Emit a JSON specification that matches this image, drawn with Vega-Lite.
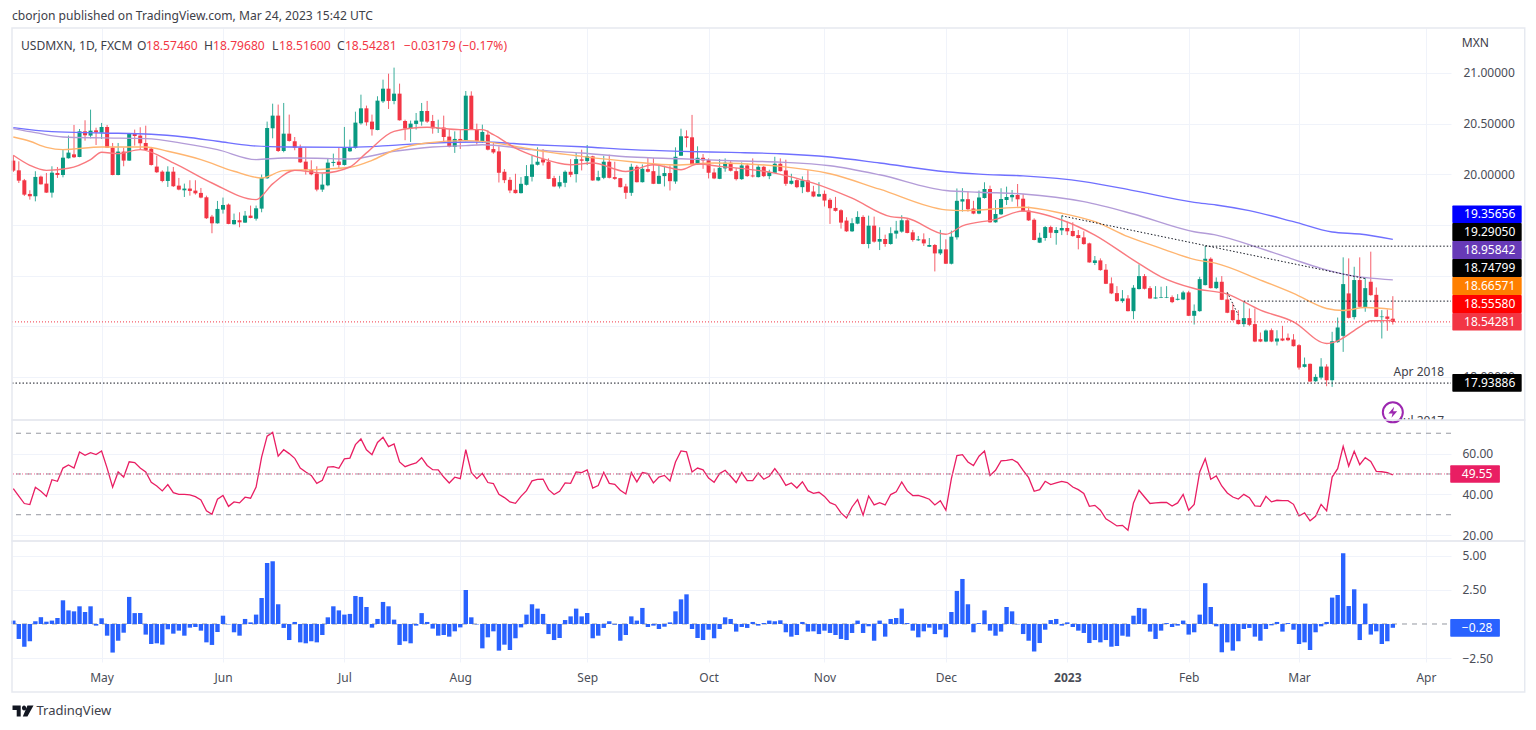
{"$schema":"https://vega.github.io/schema/vega-lite/v6.json","padding":{"left":10,"top":9,"right":0,"bottom":0},"background":"white","bounds":"flush","spacing":0,"config":{"view":{"stroke":null},"font":"Noto Sans","axis":{"labelFont":"Noto Sans","gridColor":"#f0f3fa","gridWidth":1}},
"datasets":{
"bars":[
{"i":0,"o":20.135,"h":20.188,"l":20.023,"c":20.036,"r":42.8,"m":0.25},
{"i":1,"o":20.039,"h":20.128,"l":19.914,"c":19.937,"r":39.1,"m":-1.1},
{"i":2,"o":19.941,"h":19.954,"l":19.786,"c":19.799,"r":35.5,"m":-1.67},
{"i":3,"o":19.806,"h":19.842,"l":19.75,"c":19.783,"r":35,"m":-1.27},
{"i":4,"o":19.783,"h":20.03,"l":19.733,"c":19.974,"r":43.5,"m":0.2},
{"i":5,"o":19.977,"h":19.987,"l":19.898,"c":19.901,"r":41.5,"m":0.5},
{"i":6,"o":19.908,"h":20.013,"l":19.816,"c":19.819,"r":39,"m":0.17},
{"i":7,"o":19.819,"h":20.079,"l":19.77,"c":20.016,"r":47.2,"m":0.25},
{"i":8,"o":20.013,"h":20.072,"l":19.964,"c":19.993,"r":46.4,"m":0.44},
{"i":9,"o":19.993,"h":20.243,"l":19.97,"c":20.164,"r":52.9,"m":1.74},
{"i":10,"o":20.158,"h":20.382,"l":20.155,"c":20.214,"r":54.4,"m":1},
{"i":11,"o":20.197,"h":20.487,"l":20.161,"c":20.168,"r":52.9,"m":0.93},
{"i":12,"o":20.171,"h":20.447,"l":20.168,"c":20.424,"r":60.8,"m":1.3},
{"i":13,"o":20.424,"h":20.533,"l":20.332,"c":20.385,"r":59.2,"m":0.88},
{"i":14,"o":20.382,"h":20.638,"l":20.355,"c":20.431,"r":60.5,"m":1.3},
{"i":15,"o":20.434,"h":20.46,"l":20.289,"c":20.414,"r":59.5,"m":-0.12},
{"i":16,"o":20.411,"h":20.507,"l":20.349,"c":20.467,"r":61.3,"m":0.42},
{"i":17,"o":20.467,"h":20.487,"l":20.26,"c":20.263,"r":52.9,"m":-0.86},
{"i":18,"o":20.263,"h":20.309,"l":19.99,"c":19.993,"r":43.5,"m":-2.1},
{"i":19,"o":19.993,"h":20.309,"l":19.99,"c":20.224,"r":51,"m":-1.23},
{"i":20,"o":20.224,"h":20.263,"l":20.079,"c":20.135,"r":48.5,"m":-0.64},
{"i":21,"o":20.135,"h":20.408,"l":20.132,"c":20.401,"r":56,"m":1.99},
{"i":22,"o":20.401,"h":20.441,"l":20.283,"c":20.378,"r":55.6,"m":0.8},
{"i":23,"o":20.382,"h":20.464,"l":20.243,"c":20.306,"r":52.9,"m":0.8},
{"i":24,"o":20.309,"h":20.48,"l":20.237,"c":20.24,"r":51,"m":-0.78},
{"i":25,"o":20.253,"h":20.27,"l":20.086,"c":20.092,"r":45.9,"m":-1.47},
{"i":26,"o":20.076,"h":20.184,"l":20.013,"c":20.02,"r":44.1,"m":-1.42},
{"i":27,"o":20.026,"h":20.039,"l":19.921,"c":19.934,"r":41.7,"m":-1.52},
{"i":28,"o":19.934,"h":20.079,"l":19.875,"c":20.026,"r":44.8,"m":-0.39},
{"i":29,"o":20.026,"h":20.072,"l":19.875,"c":19.882,"r":40.8,"m":-0.71},
{"i":30,"o":19.888,"h":19.964,"l":19.842,"c":19.849,"r":40,"m":-0.49},
{"i":31,"o":19.842,"h":19.908,"l":19.776,"c":19.859,"r":40,"m":-0.86},
{"i":32,"o":19.859,"h":19.941,"l":19.789,"c":19.836,"r":39.7,"m":-0.27},
{"i":33,"o":19.839,"h":19.941,"l":19.799,"c":19.812,"r":38.9,"m":-0.22},
{"i":34,"o":19.816,"h":19.865,"l":19.763,"c":19.77,"r":37.3,"m":-0.49},
{"i":35,"o":19.773,"h":19.789,"l":19.559,"c":19.566,"r":31.9,"m":-1.35},
{"i":36,"o":19.582,"h":19.599,"l":19.418,"c":19.516,"r":30.2,"m":-1.54},
{"i":37,"o":19.516,"h":19.737,"l":19.513,"c":19.658,"r":37.6,"m":-0.59},
{"i":38,"o":19.651,"h":19.77,"l":19.612,"c":19.697,"r":39.5,"m":0.61},
{"i":39,"o":19.701,"h":19.711,"l":19.507,"c":19.51,"r":34.1,"m":-0.03},
{"i":40,"o":19.507,"h":19.612,"l":19.503,"c":19.549,"r":36.3,"m":-0.61},
{"i":41,"o":19.546,"h":19.625,"l":19.477,"c":19.526,"r":35.8,"m":-0.86},
{"i":42,"o":19.523,"h":19.638,"l":19.52,"c":19.592,"r":38.6,"m":0.37},
{"i":43,"o":19.592,"h":19.691,"l":19.566,"c":19.569,"r":38.1,"m":0.12},
{"i":44,"o":19.562,"h":19.691,"l":19.543,"c":19.664,"r":43.6,"m":0.69},
{"i":45,"o":19.661,"h":19.997,"l":19.625,"c":19.964,"r":58.3,"m":1.91},
{"i":46,"o":19.961,"h":20.52,"l":19.954,"c":20.457,"r":68.6,"m":4.49},
{"i":47,"o":20.454,"h":20.697,"l":20.355,"c":20.579,"r":70.4,"m":4.61},
{"i":48,"o":20.579,"h":20.688,"l":20.22,"c":20.23,"r":58.8,"m":1.45},
{"i":49,"o":20.23,"h":20.704,"l":20.217,"c":20.401,"r":61.9,"m":-0.29},
{"i":50,"o":20.401,"h":20.589,"l":20.322,"c":20.329,"r":60,"m":-1.18},
{"i":51,"o":20.326,"h":20.368,"l":20.237,"c":20.263,"r":57.7,"m":0.15},
{"i":52,"o":20.263,"h":20.293,"l":20.112,"c":20.118,"r":52.9,"m":-1.35},
{"i":53,"o":20.125,"h":20.263,"l":19.997,"c":20.046,"r":51,"m":-1.42},
{"i":54,"o":20.046,"h":20.138,"l":19.99,"c":20,"r":49.3,"m":-1.27},
{"i":55,"o":20.007,"h":20.079,"l":19.832,"c":19.849,"r":45.4,"m":-1.35},
{"i":56,"o":19.849,"h":20.007,"l":19.826,"c":19.898,"r":46.9,"m":-0.81},
{"i":57,"o":19.891,"h":20.161,"l":19.882,"c":20.115,"r":53.4,"m":0.49},
{"i":58,"o":20.112,"h":20.204,"l":20.079,"c":20.122,"r":53.6,"m":1.3},
{"i":59,"o":20.125,"h":20.263,"l":20.063,"c":20.092,"r":52.8,"m":1},
{"i":60,"o":20.092,"h":20.467,"l":20.086,"c":20.263,"r":57.4,"m":0.69},
{"i":61,"o":20.227,"h":20.342,"l":20.22,"c":20.263,"r":57.8,"m":0.74},
{"i":62,"o":20.26,"h":20.618,"l":20.253,"c":20.51,"r":64.4,"m":2.06},
{"i":63,"o":20.503,"h":20.786,"l":20.49,"c":20.651,"r":67.2,"m":1.99},
{"i":64,"o":20.651,"h":20.678,"l":20.48,"c":20.513,"r":61.9,"m":1.25},
{"i":65,"o":20.52,"h":20.589,"l":20.382,"c":20.444,"r":59.5,"m":-0.27},
{"i":66,"o":20.437,"h":20.77,"l":20.434,"c":20.727,"r":65.5,"m":0.37},
{"i":67,"o":20.72,"h":20.934,"l":20.704,"c":20.845,"r":68,"m":1.62},
{"i":68,"o":20.845,"h":20.993,"l":20.645,"c":20.724,"r":63.4,"m":1.3},
{"i":69,"o":20.724,"h":21.053,"l":20.691,"c":20.796,"r":64.7,"m":0.32},
{"i":70,"o":20.796,"h":20.895,"l":20.53,"c":20.533,"r":55.9,"m":-1.54},
{"i":71,"o":20.526,"h":20.539,"l":20.336,"c":20.451,"r":53.6,"m":-1.27},
{"i":72,"o":20.454,"h":20.53,"l":20.319,"c":20.5,"r":54.6,"m":-1.42},
{"i":73,"o":20.497,"h":20.605,"l":20.441,"c":20.53,"r":55.4,"m":-0.12},
{"i":74,"o":20.52,"h":20.704,"l":20.48,"c":20.625,"r":58,"m":0.8},
{"i":75,"o":20.625,"h":20.724,"l":20.507,"c":20.52,"r":54.2,"m":0.15},
{"i":76,"o":20.526,"h":20.586,"l":20.401,"c":20.454,"r":52.1,"m":-0.34},
{"i":77,"o":20.451,"h":20.539,"l":20.408,"c":20.457,"r":52,"m":-0.86},
{"i":78,"o":20.461,"h":20.579,"l":20.309,"c":20.368,"r":48.5,"m":-0.81},
{"i":79,"o":20.372,"h":20.447,"l":20.266,"c":20.27,"r":45.6,"m":-0.93},
{"i":80,"o":20.27,"h":20.424,"l":20.211,"c":20.349,"r":48.4,"m":-0.54},
{"i":81,"o":20.349,"h":20.441,"l":20.25,"c":20.329,"r":47.7,"m":-0.25},
{"i":82,"o":20.329,"h":20.822,"l":20.326,"c":20.776,"r":61.9,"m":2.5},
{"i":83,"o":20.776,"h":20.819,"l":20.441,"c":20.447,"r":50.8,"m":0.49},
{"i":84,"o":20.447,"h":20.5,"l":20.293,"c":20.329,"r":47.7,"m":-0.03},
{"i":85,"o":20.326,"h":20.49,"l":20.309,"c":20.418,"r":50.3,"m":-1.79},
{"i":86,"o":20.391,"h":20.434,"l":20.236,"c":20.243,"r":45.8,"m":-0.98},
{"i":87,"o":20.249,"h":20.309,"l":20.203,"c":20.216,"r":45.3,"m":-0.54},
{"i":88,"o":20.226,"h":20.276,"l":19.919,"c":20.015,"r":40,"m":-1.96},
{"i":89,"o":20.025,"h":20.051,"l":19.913,"c":19.942,"r":38.4,"m":-1.52},
{"i":90,"o":19.945,"h":19.972,"l":19.814,"c":19.84,"r":36.3,"m":-1.91},
{"i":91,"o":19.847,"h":20.005,"l":19.81,"c":19.814,"r":35.6,"m":-1.05},
{"i":92,"o":19.814,"h":19.972,"l":19.81,"c":19.906,"r":39,"m":-0.25},
{"i":93,"o":19.896,"h":20.091,"l":19.889,"c":19.982,"r":41.8,"m":0.69},
{"i":94,"o":19.975,"h":20.183,"l":19.929,"c":20.097,"r":46.6,"m":1.45},
{"i":95,"o":20.094,"h":20.266,"l":20.087,"c":20.124,"r":47.4,"m":1.13},
{"i":96,"o":20.147,"h":20.249,"l":20.087,"c":20.117,"r":47.5,"m":0.74},
{"i":97,"o":20.124,"h":20.157,"l":19.952,"c":19.955,"r":42.3,"m":-0.74},
{"i":98,"o":19.962,"h":19.985,"l":19.873,"c":19.88,"r":39.9,"m":-1.18},
{"i":99,"o":19.88,"h":19.985,"l":19.86,"c":19.922,"r":41.5,"m":-1.03},
{"i":100,"o":19.916,"h":20.038,"l":19.873,"c":20.025,"r":45.6,"m":0.29},
{"i":101,"o":20.025,"h":20.15,"l":19.972,"c":19.995,"r":45.4,"m":0.56},
{"i":102,"o":20.002,"h":20.21,"l":19.919,"c":20.15,"r":51,"m":1.13},
{"i":103,"o":20.147,"h":20.243,"l":20.038,"c":20.134,"r":50.7,"m":0.56},
{"i":104,"o":20.13,"h":20.289,"l":20.091,"c":20.177,"r":52,"m":0.81},
{"i":105,"o":20.177,"h":20.183,"l":19.936,"c":19.939,"r":43.1,"m":-1.05},
{"i":106,"o":19.939,"h":20.035,"l":19.932,"c":19.972,"r":44.3,"m":-0.86},
{"i":107,"o":19.965,"h":20.183,"l":19.952,"c":20.124,"r":50.8,"m":-0.29},
{"i":108,"o":20.124,"h":20.193,"l":19.959,"c":19.965,"r":45.4,"m":0.2},
{"i":109,"o":19.972,"h":20.124,"l":19.945,"c":19.955,"r":44.9,"m":-0.05},
{"i":110,"o":19.962,"h":19.965,"l":19.87,"c":19.873,"r":42,"m":-1.23},
{"i":111,"o":19.88,"h":19.906,"l":19.757,"c":19.817,"r":40.2,"m":-0.81},
{"i":112,"o":19.817,"h":20.104,"l":19.787,"c":20.074,"r":50.7,"m":0.56},
{"i":113,"o":20.074,"h":20.091,"l":19.919,"c":19.922,"r":46.1,"m":0.25},
{"i":114,"o":19.922,"h":20.097,"l":19.919,"c":20.054,"r":50.7,"m":1.18},
{"i":115,"o":20.051,"h":20.167,"l":20.018,"c":20.025,"r":50.2,"m":-0.22},
{"i":116,"o":20.031,"h":20.16,"l":19.903,"c":19.906,"r":45.6,"m":-0.12},
{"i":117,"o":19.906,"h":20.084,"l":19.903,"c":19.985,"r":48.5,"m":-0.37},
{"i":118,"o":19.982,"h":20.084,"l":19.88,"c":20.012,"r":49.3,"m":-0.2},
{"i":119,"o":20.012,"h":20.087,"l":19.84,"c":19.932,"r":46.6,"m":0.12},
{"i":120,"o":19.929,"h":20.266,"l":19.906,"c":20.173,"r":55.9,"m":0.93},
{"i":121,"o":20.183,"h":20.45,"l":20.18,"c":20.375,"r":61.3,"m":1.81},
{"i":122,"o":20.375,"h":20.434,"l":20.266,"c":20.358,"r":60.9,"m":2.18},
{"i":123,"o":20.365,"h":20.586,"l":20.094,"c":20.101,"r":51,"m":-0.37},
{"i":124,"o":20.097,"h":20.276,"l":20.094,"c":20.163,"r":52.9,"m":-1.03},
{"i":125,"o":20.163,"h":20.2,"l":20.054,"c":20.137,"r":52,"m":-1.18},
{"i":126,"o":20.14,"h":20.157,"l":19.959,"c":20.015,"r":48,"m":-0.42},
{"i":127,"o":20.018,"h":20.058,"l":19.952,"c":19.959,"r":45.9,"m":-1.05},
{"i":128,"o":19.955,"h":20.15,"l":19.952,"c":20.064,"r":50.2,"m":-0.37},
{"i":129,"o":20.058,"h":20.157,"l":20.025,"c":20.114,"r":51.8,"m":0.49},
{"i":130,"o":20.114,"h":20.134,"l":20.028,"c":20.035,"r":48.9,"m":0.37},
{"i":131,"o":20.031,"h":20.061,"l":19.939,"c":19.952,"r":45.8,"m":-0.56},
{"i":132,"o":19.952,"h":20.117,"l":19.945,"c":20.087,"r":50.7,"m":-0.22},
{"i":133,"o":20.087,"h":20.104,"l":19.975,"c":19.982,"r":46.7,"m":-0.29},
{"i":134,"o":19.988,"h":20.157,"l":19.969,"c":19.979,"r":46.7,"m":0.15},
{"i":135,"o":19.972,"h":20.091,"l":19.969,"c":20.074,"r":50.5,"m":-0.12},
{"i":136,"o":20.074,"h":20.084,"l":19.972,"c":19.982,"r":47.4,"m":0.07},
{"i":137,"o":19.982,"h":20.045,"l":19.952,"c":20.021,"r":48.9,"m":0.25},
{"i":138,"o":20.015,"h":20.173,"l":20.012,"c":20.104,"r":52.6,"m":0.2},
{"i":139,"o":20.104,"h":20.157,"l":20.028,"c":20.031,"r":48.9,"m":0.27},
{"i":140,"o":20.038,"h":20.144,"l":19.886,"c":19.906,"r":44.4,"m":-0.61},
{"i":141,"o":19.906,"h":20.005,"l":19.899,"c":19.936,"r":45.6,"m":-0.93},
{"i":142,"o":19.942,"h":19.952,"l":19.863,"c":19.873,"r":43.1,"m":-0.81},
{"i":143,"o":19.873,"h":19.979,"l":19.814,"c":19.939,"r":46.2,"m":0.15},
{"i":144,"o":19.939,"h":20.041,"l":19.82,"c":19.827,"r":41.8,"m":-0.56},
{"i":145,"o":19.83,"h":19.886,"l":19.774,"c":19.781,"r":40.5,"m":-0.54},
{"i":146,"o":19.781,"h":19.922,"l":19.777,"c":19.804,"r":41,"m":-0.74},
{"i":147,"o":19.807,"h":19.84,"l":19.682,"c":19.741,"r":39,"m":-0.49},
{"i":148,"o":19.748,"h":19.764,"l":19.51,"c":19.665,"r":35.9,"m":-0.66},
{"i":149,"o":19.668,"h":19.777,"l":19.632,"c":19.639,"r":34.8,"m":-0.81},
{"i":150,"o":19.645,"h":19.655,"l":19.464,"c":19.523,"r":30.9,"m":-1.1},
{"i":151,"o":19.543,"h":19.576,"l":19.431,"c":19.437,"r":28.4,"m":-1.18},
{"i":152,"o":19.437,"h":19.566,"l":19.431,"c":19.517,"r":33.8,"m":-0.66},
{"i":153,"o":19.513,"h":19.635,"l":19.507,"c":19.579,"r":37.4,"m":0.25},
{"i":154,"o":19.579,"h":19.596,"l":19.309,"c":19.312,"r":29.8,"m":-0.66},
{"i":155,"o":19.312,"h":19.592,"l":19.269,"c":19.493,"r":39.2,"m":-0.17},
{"i":156,"o":19.493,"h":19.582,"l":19.325,"c":19.335,"r":34.8,"m":-1.23},
{"i":157,"o":19.335,"h":19.477,"l":19.252,"c":19.361,"r":35.9,"m":0.25},
{"i":158,"o":19.361,"h":19.404,"l":19.285,"c":19.312,"r":34.8,"m":-0.93},
{"i":159,"o":19.312,"h":19.477,"l":19.305,"c":19.418,"r":39.9,"m":0.37},
{"i":160,"o":19.414,"h":19.54,"l":19.365,"c":19.444,"r":41.3,"m":0.44},
{"i":161,"o":19.434,"h":19.596,"l":19.424,"c":19.546,"r":46.1,"m":1.13},
{"i":162,"o":19.546,"h":19.566,"l":19.417,"c":19.421,"r":41.7,"m":0.07},
{"i":163,"o":19.427,"h":19.451,"l":19.335,"c":19.351,"r":39.4,"m":-0.49},
{"i":164,"o":19.348,"h":19.391,"l":19.342,"c":19.358,"r":39.5,"m":-0.98},
{"i":165,"o":19.358,"h":19.417,"l":19.292,"c":19.318,"r":38.6,"m":-0.54},
{"i":166,"o":19.285,"h":19.371,"l":19.282,"c":19.302,"r":37.6,"m":-0.27},
{"i":167,"o":19.302,"h":19.312,"l":19.041,"c":19.219,"r":34.8,"m":-0.74},
{"i":168,"o":19.219,"h":19.451,"l":19.203,"c":19.259,"r":36.9,"m":-0.42},
{"i":169,"o":19.259,"h":19.358,"l":19.114,"c":19.117,"r":32.2,"m":-0.98},
{"i":170,"o":19.117,"h":19.444,"l":19.11,"c":19.384,"r":47.7,"m":0.88},
{"i":171,"o":19.378,"h":19.86,"l":19.355,"c":19.738,"r":59,"m":2.43},
{"i":172,"o":19.731,"h":19.863,"l":19.632,"c":19.754,"r":59.5,"m":3.31},
{"i":173,"o":19.754,"h":19.83,"l":19.632,"c":19.655,"r":55.9,"m":1.45},
{"i":174,"o":19.662,"h":19.738,"l":19.606,"c":19.612,"r":54.1,"m":-0.61},
{"i":175,"o":19.612,"h":19.84,"l":19.606,"c":19.771,"r":58.7,"m":0.07},
{"i":176,"o":19.766,"h":19.921,"l":19.76,"c":19.855,"r":61.3,"m":1},
{"i":177,"o":19.855,"h":19.888,"l":19.522,"c":19.526,"r":49.3,"m":-0.49},
{"i":178,"o":19.526,"h":19.746,"l":19.522,"c":19.608,"r":51.8,"m":-0.86},
{"i":179,"o":19.605,"h":19.862,"l":19.598,"c":19.756,"r":56.4,"m":-0.56},
{"i":180,"o":19.746,"h":19.878,"l":19.697,"c":19.776,"r":56.7,"m":1.25},
{"i":181,"o":19.773,"h":19.845,"l":19.73,"c":19.796,"r":57.2,"m":0.93},
{"i":182,"o":19.796,"h":19.904,"l":19.68,"c":19.753,"r":55.6,"m":-0.03},
{"i":183,"o":19.759,"h":19.806,"l":19.631,"c":19.634,"r":51.8,"m":-0.74},
{"i":184,"o":19.641,"h":19.68,"l":19.539,"c":19.545,"r":48.2,"m":-1.23},
{"i":185,"o":19.552,"h":19.565,"l":19.348,"c":19.351,"r":41.5,"m":-2.03},
{"i":186,"o":19.325,"h":19.423,"l":19.321,"c":19.374,"r":42.3,"m":-1.4},
{"i":187,"o":19.371,"h":19.489,"l":19.344,"c":19.479,"r":46.4,"m":-0.42},
{"i":188,"o":19.479,"h":19.493,"l":19.371,"c":19.423,"r":44.8,"m":0.29},
{"i":189,"o":19.42,"h":19.479,"l":19.305,"c":19.45,"r":45.6,"m":0.37},
{"i":190,"o":19.446,"h":19.591,"l":19.4,"c":19.47,"r":46.4,"m":-0.12},
{"i":191,"o":19.47,"h":19.532,"l":19.4,"c":19.437,"r":45.8,"m":0.12},
{"i":192,"o":19.44,"h":19.526,"l":19.384,"c":19.39,"r":43.6,"m":-0.22},
{"i":193,"o":19.4,"h":19.45,"l":19.259,"c":19.371,"r":42.3,"m":-0.49},
{"i":194,"o":19.377,"h":19.437,"l":19.305,"c":19.311,"r":40.4,"m":-0.66},
{"i":195,"o":19.318,"h":19.325,"l":19.127,"c":19.13,"r":34.1,"m":-1.4},
{"i":196,"o":19.124,"h":19.193,"l":19.104,"c":19.15,"r":34.6,"m":-1.18},
{"i":197,"o":19.15,"h":19.17,"l":19.048,"c":19.054,"r":32.2,"m":-1.35},
{"i":198,"o":19.058,"h":19.114,"l":18.916,"c":18.919,"r":28,"m":-1.18},
{"i":199,"o":18.923,"h":18.982,"l":18.817,"c":18.824,"r":26.3,"m":-1.67},
{"i":200,"o":18.827,"h":18.896,"l":18.741,"c":18.748,"r":24.5,"m":-1.62},
{"i":201,"o":18.748,"h":18.857,"l":18.731,"c":18.774,"r":24.8,"m":-0.86},
{"i":202,"o":18.774,"h":18.807,"l":18.646,"c":18.649,"r":22.4,"m":-0.93},
{"i":203,"o":18.649,"h":18.906,"l":18.57,"c":18.88,"r":35.8,"m":0.61},
{"i":204,"o":18.867,"h":19.11,"l":18.863,"c":18.995,"r":42,"m":1.18},
{"i":205,"o":18.995,"h":19.015,"l":18.863,"c":18.87,"r":38.7,"m":1.13},
{"i":206,"o":18.876,"h":18.896,"l":18.771,"c":18.774,"r":35.5,"m":-0.56},
{"i":207,"o":18.774,"h":18.896,"l":18.771,"c":18.784,"r":35.8,"m":-1.1},
{"i":208,"o":18.781,"h":18.89,"l":18.778,"c":18.787,"r":36,"m":-0.49},
{"i":209,"o":18.781,"h":18.896,"l":18.778,"c":18.787,"r":36,"m":0.07},
{"i":210,"o":18.787,"h":18.804,"l":18.728,"c":18.738,"r":34.3,"m":-0.22},
{"i":211,"o":18.761,"h":18.817,"l":18.755,"c":18.771,"r":35.8,"m":-0.12},
{"i":212,"o":18.764,"h":18.85,"l":18.758,"c":18.834,"r":40,"m":0.25},
{"i":213,"o":18.834,"h":18.85,"l":18.6,"c":18.603,"r":32.2,"m":-0.78},
{"i":214,"o":18.603,"h":18.715,"l":18.517,"c":18.652,"r":35.1,"m":-0.61},
{"i":215,"o":18.649,"h":18.988,"l":18.643,"c":18.965,"r":51,"m":0.69},
{"i":216,"o":18.906,"h":19.292,"l":18.903,"c":19.166,"r":57.5,"m":3},
{"i":217,"o":19.166,"h":19.18,"l":18.873,"c":18.876,"r":47.4,"m":1.25},
{"i":218,"o":18.876,"h":18.982,"l":18.867,"c":18.939,"r":49,"m":-0.17},
{"i":219,"o":18.939,"h":18.995,"l":18.758,"c":18.761,"r":44.1,"m":-2.08},
{"i":220,"o":18.764,"h":18.834,"l":18.629,"c":18.633,"r":40.7,"m":-1.35},
{"i":221,"o":18.659,"h":18.725,"l":18.554,"c":18.56,"r":38.7,"m":-1.96},
{"i":222,"o":18.563,"h":18.659,"l":18.517,"c":18.521,"r":37.7,"m":-1.27},
{"i":223,"o":18.521,"h":18.741,"l":18.494,"c":18.58,"r":40,"m":-0.37},
{"i":224,"o":18.58,"h":18.675,"l":18.501,"c":18.514,"r":38.4,"m":-0.29},
{"i":225,"o":18.521,"h":18.675,"l":18.343,"c":18.349,"r":34.3,"m":-0.93},
{"i":226,"o":18.372,"h":18.438,"l":18.343,"c":18.349,"r":34.1,"m":-1.23},
{"i":227,"o":18.349,"h":18.468,"l":18.343,"c":18.458,"r":39,"m":-0.37},
{"i":228,"o":18.461,"h":18.478,"l":18.343,"c":18.349,"r":36.3,"m":-0.1},
{"i":229,"o":18.349,"h":18.461,"l":18.31,"c":18.379,"r":37.1,"m":0.15},
{"i":230,"o":18.379,"h":18.504,"l":18.353,"c":18.359,"r":36.9,"m":-0.56},
{"i":231,"o":18.386,"h":18.428,"l":18.353,"c":18.362,"r":36.9,"m":0.07},
{"i":232,"o":18.369,"h":18.422,"l":18.3,"c":18.303,"r":35.1,"m":-0.42},
{"i":233,"o":18.313,"h":18.323,"l":18.072,"c":18.092,"r":29.4,"m":-1.47},
{"i":234,"o":18.099,"h":18.191,"l":18.092,"c":18.125,"r":30.9,"m":-1.35},
{"i":235,"o":18.129,"h":18.132,"l":17.951,"c":17.954,"r":27,"m":-1.91},
{"i":236,"o":17.957,"h":18.026,"l":17.951,"c":18,"r":29.2,"m":-0.61},
{"i":237,"o":17.993,"h":18.185,"l":17.974,"c":18.102,"r":35.1,"m":-0.17},
{"i":238,"o":18.102,"h":18.125,"l":17.908,"c":17.967,"r":31.9,"m":0.15},
{"i":239,"o":17.967,"h":18.445,"l":17.901,"c":18.352,"r":48.5,"m":1.94},
{"i":240,"o":18.343,"h":18.586,"l":18.336,"c":18.488,"r":52.6,"m":2.13},
{"i":241,"o":18.405,"h":19.18,"l":18.247,"c":18.916,"r":63.6,"m":5.2},
{"i":242,"o":18.824,"h":19.17,"l":18.577,"c":18.583,"r":53.9,"m":1.32},
{"i":243,"o":18.59,"h":19.087,"l":18.567,"c":18.956,"r":61.1,"m":2.55},
{"i":244,"o":18.956,"h":19.18,"l":18.685,"c":18.692,"r":54.6,"m":-1.18},
{"i":245,"o":18.685,"h":18.982,"l":18.643,"c":18.876,"r":58,"m":1.5},
{"i":246,"o":18.939,"h":19.236,"l":18.801,"c":18.807,"r":56.2,"m":-0.78},
{"i":247,"o":18.81,"h":18.883,"l":18.59,"c":18.593,"r":51.3,"m":-0.54},
{"i":248,"o":18.59,"h":18.659,"l":18.379,"c":18.596,"r":51.1,"m":-1.47},
{"i":249,"o":18.596,"h":18.666,"l":18.455,"c":18.573,"r":50.7,"m":-1.27},
{"i":250,"o":18.5746,"h":18.7968,"l":18.516,"c":18.5428,"r":49.55,"m":-0.28}
],
"ma":[
{"s":"MA 200","i":0,"p":20.461},{"s":"MA 200","i":7,"p":20.421},{"s":"MA 200","i":16,"p":20.408},{"s":"MA 200","i":25,"p":20.395},{"s":"MA 200","i":31,"p":20.368},{"s":"MA 200","i":37,"p":20.326},{"s":"MA 200","i":43,"p":20.283},{"s":"MA 200","i":50,"p":20.27},{"s":"MA 200","i":61,"p":20.266},{"s":"MA 200","i":70,"p":20.29},{"s":"MA 200","i":80,"p":20.316},{"s":"MA 200","i":85,"p":20.318},{"s":"MA 200","i":94,"p":20.292},{"s":"MA 200","i":103,"p":20.272},{"s":"MA 200","i":112,"p":20.243},{"s":"MA 200","i":121,"p":20.226},{"s":"MA 200","i":130,"p":20.216},{"s":"MA 200","i":139,"p":20.203},{"s":"MA 200","i":148,"p":20.17},{"s":"MA 200","i":157,"p":20.111},{"s":"MA 200","i":169,"p":20.025},{"s":"MA 200","i":175,"p":20.002},{"s":"MA 200","i":183,"p":19.984},{"s":"MA 200","i":194,"p":19.928},{"s":"MA 200","i":203,"p":19.839},{"s":"MA 200","i":214,"p":19.723},{"s":"MA 200","i":218,"p":19.697},{"s":"MA 200","i":224,"p":19.641},{"s":"MA 200","i":232,"p":19.532},{"s":"MA 200","i":239,"p":19.43},{"s":"MA 200","i":244,"p":19.41},{"s":"MA 200","i":250,"p":19.357},
{"s":"MA 100","i":0,"p":20.451},{"s":"MA 100","i":4,"p":20.411},{"s":"MA 100","i":9,"p":20.368},{"s":"MA 100","i":16,"p":20.359},{"s":"MA 100","i":24,"p":20.352},{"s":"MA 100","i":31,"p":20.303},{"s":"MA 100","i":37,"p":20.243},{"s":"MA 100","i":44,"p":20.145},{"s":"MA 100","i":49,"p":20.161},{"s":"MA 100","i":55,"p":20.158},{"s":"MA 100","i":61,"p":20.151},{"s":"MA 100","i":69,"p":20.227},{"s":"MA 100","i":76,"p":20.27},{"s":"MA 100","i":82,"p":20.283},{"s":"MA 100","i":85,"p":20.292},{"s":"MA 100","i":94,"p":20.243},{"s":"MA 100","i":103,"p":20.21},{"s":"MA 100","i":112,"p":20.17},{"s":"MA 100","i":121,"p":20.153},{"s":"MA 100","i":130,"p":20.134},{"s":"MA 100","i":139,"p":20.12},{"s":"MA 100","i":148,"p":20.084},{"s":"MA 100","i":157,"p":19.995},{"s":"MA 100","i":169,"p":19.84},{"s":"MA 100","i":175,"p":19.823},{"s":"MA 100","i":183,"p":19.806},{"s":"MA 100","i":194,"p":19.73},{"s":"MA 100","i":203,"p":19.608},{"s":"MA 100","i":214,"p":19.433},{"s":"MA 100","i":218,"p":19.4},{"s":"MA 100","i":226,"p":19.269},{"s":"MA 100","i":232,"p":19.16},{"s":"MA 100","i":237,"p":19.071},{"s":"MA 100","i":241,"p":19.015},{"s":"MA 100","i":250,"p":18.958},
{"s":"MA 50","i":0,"p":20.368},{"s":"MA 50","i":3,"p":20.326},{"s":"MA 50","i":6,"p":20.266},{"s":"MA 50","i":9,"p":20.243},{"s":"MA 50","i":16,"p":20.27},{"s":"MA 50","i":24,"p":20.27},{"s":"MA 50","i":28,"p":20.227},{"s":"MA 50","i":34,"p":20.145},{"s":"MA 50","i":40,"p":20.03},{"s":"MA 50","i":45,"p":19.964},{"s":"MA 50","i":49,"p":20.036},{"s":"MA 50","i":55,"p":20.046},{"s":"MA 50","i":61,"p":20.069},{"s":"MA 50","i":65,"p":20.138},{"s":"MA 50","i":69,"p":20.237},{"s":"MA 50","i":75,"p":20.309},{"s":"MA 50","i":82,"p":20.332},{"s":"MA 50","i":85,"p":20.325},{"s":"MA 50","i":91,"p":20.276},{"s":"MA 50","i":97,"p":20.219},{"s":"MA 50","i":103,"p":20.177},{"s":"MA 50","i":112,"p":20.124},{"s":"MA 50","i":120,"p":20.091},{"s":"MA 50","i":127,"p":20.111},{"s":"MA 50","i":139,"p":20.078},{"s":"MA 50","i":148,"p":20.005},{"s":"MA 50","i":157,"p":19.853},{"s":"MA 50","i":169,"p":19.649},{"s":"MA 50","i":172,"p":19.641},{"s":"MA 50","i":183,"p":19.674},{"s":"MA 50","i":190,"p":19.615},{"s":"MA 50","i":196,"p":19.532},{"s":"MA 50","i":202,"p":19.384},{"s":"MA 50","i":208,"p":19.269},{"s":"MA 50","i":214,"p":19.16},{"s":"MA 50","i":218,"p":19.12},{"s":"MA 50","i":226,"p":18.956},{"s":"MA 50","i":232,"p":18.824},{"s":"MA 50","i":238,"p":18.675},{"s":"MA 50","i":241,"p":18.656},{"s":"MA 50","i":245,"p":18.685},{"s":"MA 50","i":250,"p":18.666},
{"s":"MA 20","i":0,"p":20.188},{"s":"MA 20","i":3,"p":20.089},{"s":"MA 20","i":6,"p":20.039},{"s":"MA 20","i":10,"p":20.059},{"s":"MA 20","i":14,"p":20.145},{"s":"MA 20","i":16,"p":20.217},{"s":"MA 20","i":19,"p":20.204},{"s":"MA 20","i":23,"p":20.243},{"s":"MA 20","i":29,"p":20.112},{"s":"MA 20","i":36,"p":19.914},{"s":"MA 20","i":44,"p":19.75},{"s":"MA 20","i":47,"p":19.905},{"s":"MA 20","i":51,"p":20.039},{"s":"MA 20","i":56,"p":20.013},{"s":"MA 20","i":61,"p":20.072},{"s":"MA 20","i":64,"p":20.211},{"s":"MA 20","i":69,"p":20.424},{"s":"MA 20","i":75,"p":20.464},{"s":"MA 20","i":81,"p":20.441},{"s":"MA 20","i":85,"p":20.441},{"s":"MA 20","i":87,"p":20.391},{"s":"MA 20","i":91,"p":20.259},{"s":"MA 20","i":95,"p":20.17},{"s":"MA 20","i":101,"p":20.094},{"s":"MA 20","i":105,"p":20.111},{"s":"MA 20","i":111,"p":20.028},{"s":"MA 20","i":116,"p":20.094},{"s":"MA 20","i":121,"p":20.045},{"s":"MA 20","i":124,"p":20.101},{"s":"MA 20","i":128,"p":20.078},{"s":"MA 20","i":138,"p":20.012},{"s":"MA 20","i":145,"p":19.913},{"s":"MA 20","i":152,"p":19.764},{"s":"MA 20","i":159,"p":19.582},{"s":"MA 20","i":162,"p":19.566},{"s":"MA 20","i":169,"p":19.408},{"s":"MA 20","i":172,"p":19.49},{"s":"MA 20","i":178,"p":19.555},{"s":"MA 20","i":183,"p":19.638},{"s":"MA 20","i":190,"p":19.549},{"s":"MA 20","i":196,"p":19.4},{"s":"MA 20","i":203,"p":19.153},{"s":"MA 20","i":208,"p":18.988},{"s":"MA 20","i":214,"p":18.873},{"s":"MA 20","i":220,"p":18.817},{"s":"MA 20","i":226,"p":18.659},{"s":"MA 20","i":232,"p":18.544},{"s":"MA 20","i":238,"p":18.33},{"s":"MA 20","i":240,"p":18.356},{"s":"MA 20","i":244,"p":18.494},{"s":"MA 20","i":246,"p":18.554},{"s":"MA 20","i":250,"p":18.556}
],
"tags":[
{"kind":"MA 200","txt":"19.35656","mid":19.606,"lo":19.519,"hi":19.693},
{"kind":"High","txt":"19.29050","mid":19.43,"lo":19.342,"hi":19.519},
{"kind":"MA 100","txt":"18.95842","mid":19.253,"lo":19.164,"hi":19.342},
{"kind":"Pivot","txt":"18.74799","mid":19.075,"lo":18.986,"hi":19.164},
{"kind":"MA 50","txt":"18.66571","mid":18.897,"lo":18.808,"hi":18.986},
{"kind":"MA 20","txt":"18.55580","mid":18.72,"lo":18.631,"hi":18.808},
{"kind":"Close","txt":"18.54281","mid":18.545,"lo":18.459,"hi":18.631},
{"kind":"Low","txt":"17.93886","mid":17.94,"lo":17.853,"hi":18.029}
]
},
"vconcat":[
{"width":1439,"height":392,"resolve":{"scale":{"color":"independent"}},"layer":[
{"data":{"name":"bars"},"mark":{"type":"rule","strokeWidth":1,"opacity":0.8},"encoding":{
"x":{"field":"i","type":"quantitative","scale":{"domain":[-0.236,260.54],"nice":false,"zero":false,"padding":0},"axis":{"values":[16,38,60,81,104,126,147,169,191,213,233,256],"grid":true,"labels":false,"ticks":false,"domain":false,"title":null}},
"y":{"field":"l","type":"quantitative","scale":{"domain":[17.5745,21.444],"nice":false,"zero":false,"padding":0},"axis":{"orient":"right","values":[18,18.5,19,19.5,20,20.5,21],"format":".5f","labelExpr":"datum.value===18.5||datum.value===19||datum.value===19.5?'':datum.label","grid":true,"ticks":false,"domain":false,"title":null,"labelAlign":"left","labelPadding":12,"labelFontSize":12,"labelColor":"#4a4d57"}},
"y2":{"field":"h"},
"color":{"condition":{"test":"datum.c>=datum.o","value":"#089981"},"value":"#F23645"}}},
{"data":{"name":"bars"},"mark":{"type":"bar","size":4,"orient":"vertical"},"encoding":{
"x":{"field":"i","type":"quantitative"},
"y":{"field":"o","type":"quantitative"},
"y2":{"field":"c"},
"color":{"condition":{"test":"datum.c>=datum.o","value":"#089981"},"value":"#F23645"}}},
{"data":{"name":"ma"},"mark":{"type":"line","strokeWidth":1.4,"interpolate":"monotone"},"encoding":{
"x":{"field":"i","type":"quantitative"},
"y":{"field":"p","type":"quantitative"},
"color":{"field":"s","type":"nominal","legend":null,"scale":{"domain":["MA 20","MA 50","MA 100","MA 200"],"range":["#F97A7F","#FFB570","#B39CD8","#7070FF"]}}}},
{"data":{"values":[{"name":"low","level":17.93886,"a":-0.236,"b":260.54},{"name":"high","level":19.2905,"a":216,"b":260.54},{"name":"pivot","level":18.74799,"a":223,"b":260.54}]},"mark":{"type":"rule","strokeDash":[1.5,2],"strokeWidth":1,"color":"#131722"},"encoding":{
"x":{"field":"a","type":"quantitative"},"x2":{"field":"b"},
"y":{"field":"level","type":"quantitative"}}},
{"data":{"values":[{"level":18.54281,"a":-0.236,"b":260.54}]},"mark":{"type":"rule","strokeDash":[1,2],"strokeWidth":1,"color":"#F23645"},"encoding":{
"x":{"field":"a","type":"quantitative"},"x2":{"field":"b"},
"y":{"field":"level","type":"quantitative"}}},
{"data":{"values":[{"t":"a","i":190,"p":19.59},{"t":"a","i":245,"p":18.97},{"t":"b","i":220,"p":18.834},{"t":"b","i":222,"p":18.61}]},"mark":{"type":"line","strokeDash":[1.5,2],"strokeWidth":1,"color":"#131722"},"encoding":{
"x":{"field":"i","type":"quantitative"},
"y":{"field":"p","type":"quantitative"},
"detail":{"field":"t"}}},
{"data":{"values":[{"a":-0.236,"b":273.9,"top":21.444,"bot":17.5745}]},"mark":{"type":"rect","fillOpacity":0,"stroke":"#e6e9f0","strokeWidth":1.5},"encoding":{
"x":{"field":"a","type":"quantitative"},"x2":{"field":"b"},
"y":{"field":"top","type":"quantitative"},"y2":{"field":"bot"}}},
{"data":{"name":"tags"},"mark":{"type":"rect","cornerRadius":1},"encoding":{
"x":{"datum":260.78,"type":"quantitative"},"x2":{"datum":273.35},
"y":{"field":"hi","type":"quantitative"},"y2":{"field":"lo"},
"color":{"field":"kind","type":"nominal","legend":null,"scale":{"domain":["MA 200","High","MA 100","Pivot","MA 50","MA 20","Close","Low"],"range":["#0000FF","#000000","#673AB7","#000000","#FF7F00","#FF0000","#F23645","#000000"]}}}},
{"data":{"name":"tags"},"mark":{"type":"text","align":"left","baseline":"middle","fontSize":12,"color":"white"},"encoding":{
"x":{"datum":262.9,"type":"quantitative"},
"y":{"field":"mid","type":"quantitative"},
"text":{"field":"txt"}}},
{"data":{"values":[{"txt":"cborjon published on TradingView.com, Mar 24, 2023 15:42 UTC","at":-0.236,"p":21.563,"tone":"grey"},{"txt":"USDMXN, 1D, FXCM","at":1.4,"p":21.267,"tone":"ink"},{"txt":"O","at":22.4,"p":21.267,"tone":"ink"},{"txt":"18.57460","at":24.05,"p":21.267,"tone":"down"},{"txt":"H","at":34.56,"p":21.267,"tone":"ink"},{"txt":"18.79680","at":36.2,"p":21.267,"tone":"down"},{"txt":"L","at":46.9,"p":21.267,"tone":"ink"},{"txt":"18.51600","at":48.15,"p":21.267,"tone":"down"},{"txt":"C","at":58.66,"p":21.267,"tone":"ink"},{"txt":"18.54281","at":60.1,"p":21.267,"tone":"down"},{"txt":"−0.03179 (−0.17%)","at":70.8,"p":21.267,"tone":"down"},{"txt":"MXN","at":262.5,"p":21.296,"tone":"grey"}]},"mark":{"type":"text","align":"left","baseline":"middle","fontSize":12.1},"encoding":{
"x":{"field":"at","type":"quantitative"},
"y":{"field":"p","type":"quantitative"},
"text":{"field":"txt"},
"color":{"condition":{"test":"datum.tone==='down'","value":"#F23645"},"value":"#3d4049"}}},
{"data":{"values":[{"txt":"Apr 2018","at":259.3,"p":18.05}]},"mark":{"type":"text","align":"right","baseline":"middle","fontSize":12,"color":"#3d4049"},"encoding":{
"x":{"field":"at","type":"quantitative"},
"y":{"field":"p","type":"quantitative"},
"text":{"field":"txt"}}},
{"data":{"values":[{"txt":"Jul 2017","at":259.3,"p":17.56}]},"mark":{"type":"text","align":"right","baseline":"middle","fontSize":12,"color":"#3d4049","clip":true},"encoding":{
"x":{"field":"at","type":"quantitative"},
"y":{"field":"p","type":"quantitative"},
"text":{"field":"txt"}}},
{"data":{"values":[{"at":250,"p":17.65}]},"mark":{"type":"point","shape":"circle","filled":false,"size":400,"stroke":"#9C27B0","strokeWidth":2,"opacity":1},"encoding":{
"x":{"field":"at","type":"quantitative"},
"y":{"field":"p","type":"quantitative"}}},
{"data":{"values":[{"at":250,"p":17.65}]},"mark":{"type":"point","shape":"M0.25 -1L-0.8 0.2H-0.05L-0.25 1L0.8 -0.2H0.05Z","filled":true,"size":120,"color":"#9C27B0","opacity":1},"encoding":{
"x":{"field":"at","type":"quantitative"},
"y":{"field":"p","type":"quantitative"}}}
]},
{"width":1439,"height":121,"layer":[
{"data":{"name":"bars"},"mark":{"type":"line","strokeWidth":1.3,"color":"#E91E63"},"encoding":{
"x":{"field":"i","type":"quantitative","scale":{"domain":[-0.236,260.54],"nice":false,"zero":false},"axis":{"values":[16,38,60,81,104,126,147,169,191,213,233,256],"grid":true,"labels":false,"ticks":false,"domain":false,"title":null}},
"y":{"field":"r","type":"quantitative","scale":{"domain":[17.1,76.5],"nice":false,"zero":false},"axis":{"orient":"right","values":[20,40,60],"format":".2f","grid":true,"ticks":false,"domain":false,"title":null,"labelAlign":"left","labelPadding":11,"labelFontSize":12,"labelColor":"#4a4d57"}}}},
{"data":{"values":[{"level":70},{"level":30},{"level":50}]},"mark":{"type":"rule","strokeDash":[5,5],"strokeWidth":1,"color":"#9598a1"},"encoding":{
"y":{"field":"level","type":"quantitative"}}},
{"data":{"values":[{"level":50}]},"mark":{"type":"rule","strokeDash":[1,2],"strokeWidth":1,"color":"#F2608E"},"encoding":{
"y":{"field":"level","type":"quantitative"}}},
{"data":{"values":[{"a":-0.236,"b":273.9,"top":76.5,"bot":17.1}]},"mark":{"type":"rect","fillOpacity":0,"stroke":"#e6e9f0","strokeWidth":1.5},"encoding":{
"x":{"field":"a","type":"quantitative"},"x2":{"field":"b"},
"y":{"field":"top","type":"quantitative"},"y2":{"field":"bot"}}},
{"data":{"values":[{"top":54.3,"bot":45.7}]},"mark":{"type":"rect","color":"#E91E63","cornerRadius":1},"encoding":{
"x":{"datum":260.4,"type":"quantitative"},"x2":{"datum":269.4},
"y":{"field":"top","type":"quantitative"},"y2":{"field":"bot"}}},
{"data":{"values":[{"txt":"49.55","mid":49.9}]},"mark":{"type":"text","align":"left","baseline":"middle","fontSize":12,"color":"white"},"encoding":{
"x":{"datum":262.5,"type":"quantitative"},
"y":{"field":"mid","type":"quantitative"},
"text":{"field":"txt"}}}
]},
{"width":1439,"height":121,"layer":[
{"data":{"values":[{"level":0}]},"mark":{"type":"rule","strokeDash":[5,5],"strokeWidth":1,"color":"#9598a1"},"encoding":{
"x":{"datum":-0.236,"type":"quantitative","scale":{"domain":[-0.236,260.54],"nice":false,"zero":false,"padding":0},"axis":{"values":[16,38,60,81,104,126,147,169,191,213,233,256],"grid":true,"ticks":false,"domain":false,"title":"TradingView","titleAnchor":"start","titleFont":"Noto Sans","titleFontSize":13,"titleFontWeight":"normal","titleColor":"#3d4049","titlePadding":21,"titleX":24,"labelPadding":10,"labelFontSize":12,"labelColor":"#4a4d57","labelExpr":"['May','Jun','Jul','Aug','Sep','Oct','Nov','Dec','2023','Feb','Mar','Apr'][indexof([16,38,60,81,104,126,147,169,191,213,233,256],datum.value)]","labelFontWeight":{"condition":{"test":"datum.value===191","value":"bold"},"value":"normal"}}},
"x2":{"datum":260.54},
"y":{"field":"level","type":"quantitative","scale":{"domain":[-2.794,6.1],"nice":false,"zero":false,"padding":0},"axis":{"orient":"right","values":[-2.5,2.5,5],"format":".2f","grid":true,"ticks":false,"domain":false,"title":null,"labelAlign":"left","labelPadding":11,"labelFontSize":12,"labelColor":"#4a4d57"}}}},
{"data":{"name":"bars"},"mark":{"type":"bar","size":4.4,"orient":"vertical","color":"#2962FF"},"encoding":{
"x":{"field":"i","type":"quantitative"},
"y":{"field":"m","type":"quantitative"},
"y2":{"datum":0}}},
{"data":{"values":[{"a":-0.236,"b":273.9,"top":6.1,"bot":-5}]},"mark":{"type":"rect","fillOpacity":0,"stroke":"#e6e9f0","strokeWidth":1.5},"encoding":{
"x":{"field":"a","type":"quantitative"},"x2":{"field":"b"},
"y":{"field":"top","type":"quantitative"},"y2":{"field":"bot"}}},
{"data":{"values":[{"top":0.37,"bot":-0.93}]},"mark":{"type":"rect","color":"#2962FF","cornerRadius":1},"encoding":{
"x":{"datum":260.4,"type":"quantitative"},"x2":{"datum":269.4},
"y":{"field":"top","type":"quantitative"},"y2":{"field":"bot"}}},
{"data":{"values":[{"txt":"−0.28","mid":-0.28}]},"mark":{"type":"text","align":"left","baseline":"middle","fontSize":12,"color":"white"},"encoding":{
"x":{"datum":262.5,"type":"quantitative"},
"y":{"field":"mid","type":"quantitative"},
"text":{"field":"txt"}}},
{"data":{"values":[{"at":1.76,"p":-6.39}]},"mark":{"type":"point","shape":"M-1 -0.52H-0.22V0.52H-0.6V-0.08H-1Z M-0.1 -0.28A0.2 0.24 0 1 0 0.3 -0.28A0.2 0.24 0 1 0 -0.1 -0.28Z M0.42 -0.52H1L0.42 0.52H-0.02Z","filled":true,"size":441,"color":"#131722","opacity":1},"encoding":{
"x":{"field":"at","type":"quantitative"},
"y":{"field":"p","type":"quantitative"}}}
]}
]}
